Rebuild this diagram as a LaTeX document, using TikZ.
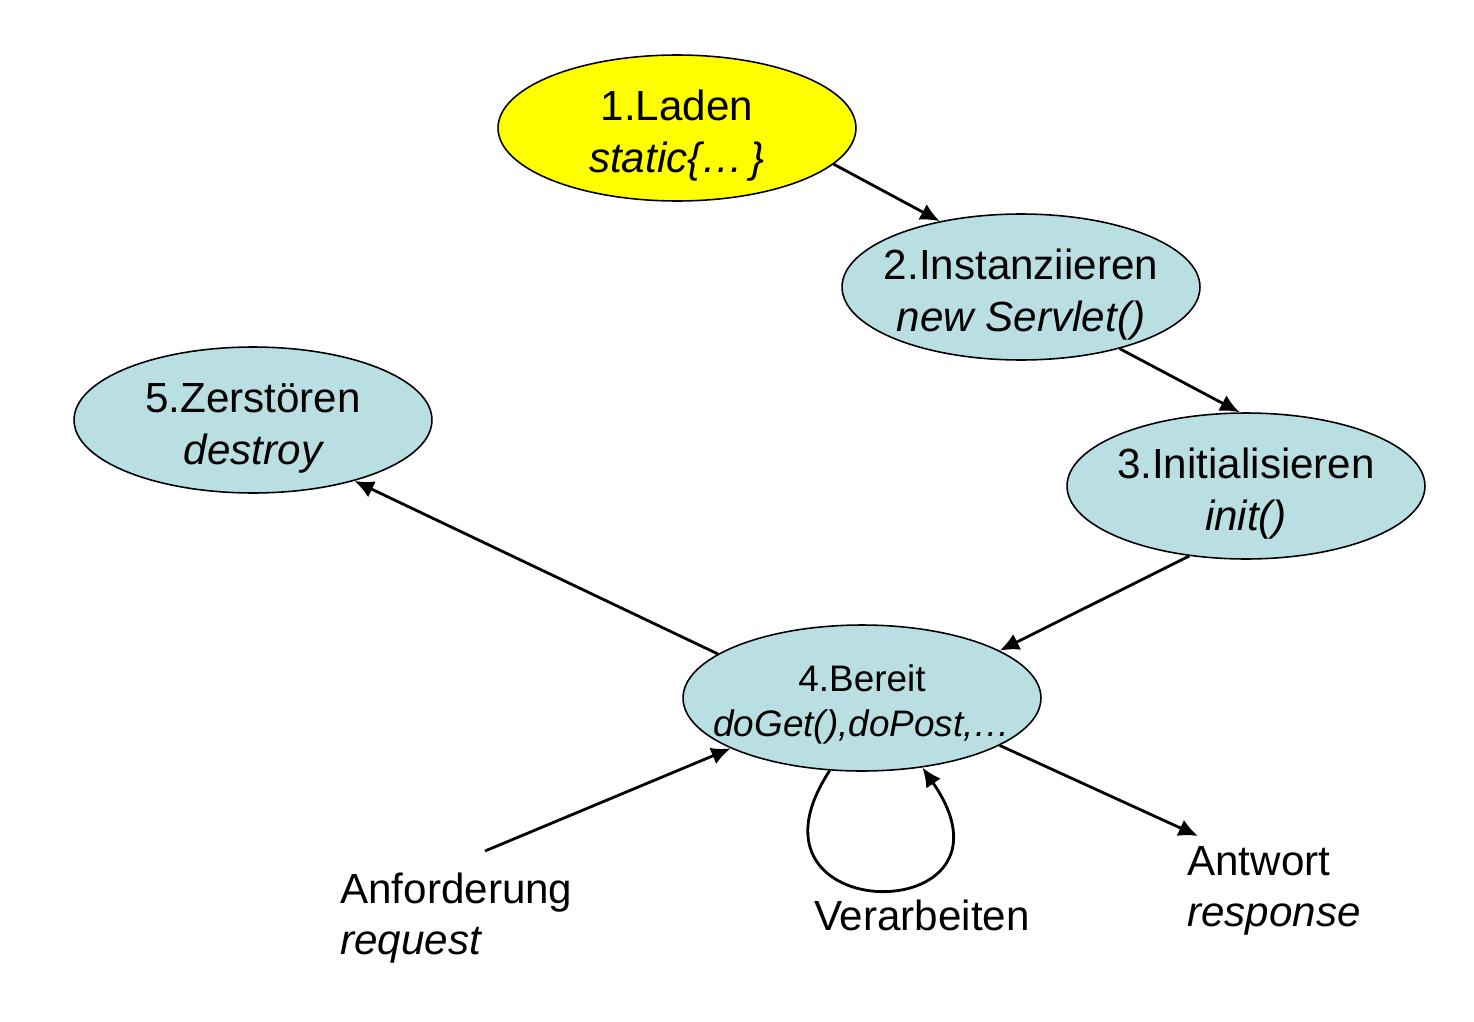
\documentclass[tikz,border=0pt]{standalone}
\usepackage{fontspec}
\setmainfont{Liberation Sans}
\usepackage{tikz}
\usetikzlibrary{arrows.meta, positioning, shapes.geometric}
\definecolor{stateblue}{RGB}{185,223,226}
\definecolor{stateyellow}{RGB}{255,255,0}
\newcommand{\toplift}{\rule{0pt}{0.9cm}}

\begin{document}
\begin{tikzpicture}[x=0.02cm,y=-0.02cm,
  state/.style={ellipse,draw,line width=0.9pt,fill=stateblue,minimum width=7.16cm,
    minimum height=2.92cm,inner xsep=-0.35cm,inner ysep=-0.2cm,align=center,
    font=\fontsize{24}{29.5}\selectfont},
  flow/.style={line width=1.6pt,-{Latex[length=11pt,width=10pt]}},
  lbl/.style={align=left,inner sep=0pt,font=\fontsize{24}{29}\selectfont}]
\useasboundingbox (0,0) rectangle (1474,1021);
% Lifecycle states
\node[state,fill=stateyellow] (laden) at (677,128) {\toplift 1.Laden\\\itshape static\{\ldots\,\}};
\node[state] (inst) at (1021,287) {\toplift 2.Instanziieren\\\itshape new Servlet()};
\node[state] (init) at (1246,486) {\toplift 3.Initialisieren\\\itshape init()};
\node[state,inner xsep=-0.5cm,font=\fontsize{21}{25.5}\selectfont] (bereit) at (862,698) {\rule{0pt}{0.8cm}4.Bereit\\\itshape doGet(),doPost,\ldots};
\node[state] (zerst) at (253,420) {\toplift 5.Zerstören\\\itshape destroy};
% Outside labels
\node[lbl,anchor=west] (anf) at (340,918) {Anforderung\\\itshape request};
\node[lbl] (verarb) at (922,915) {Verarbeiten};
\node[lbl,anchor=west] (antw) at (1187,891) {Antwort\\\itshape response};
\coordinate (reqend) at (485,851);
\coordinate (respend) at (1198,836);
% Transitions
\draw[flow] (laden.-13) -- (inst.141);
\draw[flow] (inst.-32) -- (init.95);
\draw[flow] (init.-129) -- (bereit.19);
\draw[flow] (bereit.163) -- (zerst.-31);
\draw[flow] (reqend) -- (bereit.-159);
\draw[flow] (bereit.-19) -- (respend);
\draw[flow] (bereit.-114) .. controls (725,930) and (1035,930) .. (bereit.-49);
\end{tikzpicture}
\end{document}
